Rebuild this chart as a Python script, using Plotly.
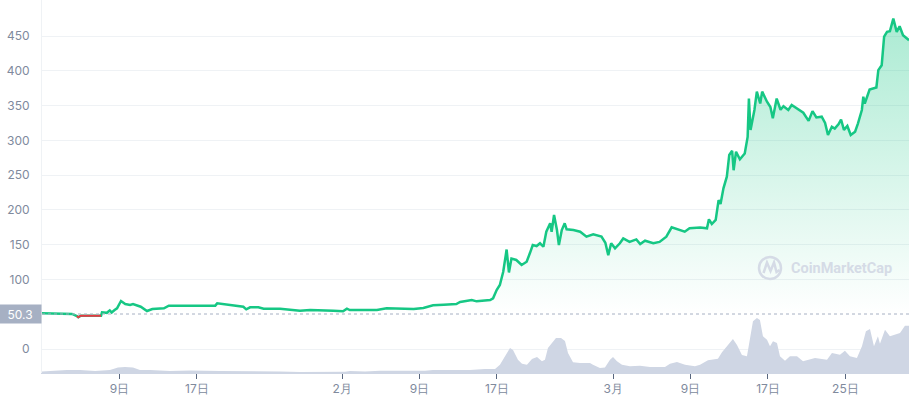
import pandas as pd
import numpy as np
import plotly.graph_objects as go

BASE_DATE = "2021-01-01"
BASELINE = 50.3

# price: time in days since Jan 1, price in USD
price_days = [0, 0.8, 1.72, 2.5, 3.1, 3.6, 3.75, 4.0, 4.8, 5.5, 6.1, 6.2, 6.7, 7.0, 7.2, 7.5, 7.75,
              8.16, 8.4, 8.6, 9.1, 9.4, 10.2, 10.85, 11.4, 12.05, 12.6, 13.1, 13.8, 14.5, 15.5, 16.5,
              17.9, 18.1, 18.7, 19.8, 20.8, 21.1, 21.5, 22.35, 22.9, 24.6, 25.6, 26.65, 27.7, 29.05,
              30.1, 31.1, 31.5, 31.8, 33.2, 34.6, 35.6, 37.0, 38.4, 39.4, 40.4, 41.5, 42.8, 43.2,
              44.4, 44.9, 45.6, 46.3, 46.6, 46.97, 47.3, 47.65, 48.0, 48.24, 48.5, 49.0, 49.55,
              50.07, 50.4, 50.7, 51.1, 51.45, 51.8, 52.1, 52.5, 52.65, 52.9, 53.2, 53.4, 53.7,
              54.0, 54.2, 54.9, 55.6, 56.25, 56.95, 57.8, 58.2, 58.5, 58.8, 59.2, 59.7, 60.05,
              60.7, 61.4, 61.8, 62.3, 63.15, 63.8, 64.5, 65.05, 65.6, 66.4, 66.9, 68.0, 68.7,
              68.9, 69.2, 69.6, 69.9, 70.1, 70.4, 70.75, 71.0, 71.3, 71.45, 71.7, 72.1, 72.6,
              72.9, 73.03, 73.2, 73.6, 73.85, 74.2, 74.4, 74.9, 75.25, 75.5, 75.9, 76.3, 76.6,
              77.1, 77.45, 78.0, 78.65, 79.2, 79.6, 80.0, 80.55, 80.9, 81.2, 81.6, 81.9, 82.3,
              82.55, 82.85, 83.2, 83.55, 84.0, 84.3, 84.7, 84.85, 85.0, 85.5, 86.2, 86.4, 86.75,
              87.0, 87.3, 87.6, 87.95, 88.3, 88.6, 88.95, 89.3, 89.57]
price_values = [51.3, 51.0, 50.6, 50.5, 50.4, 47.4, 45.6, 47.9, 47.6, 48.0, 47.8, 52.7, 52.0, 55.5, 52.4, 56.0, 58.5,
                69.0, 66.0, 64.7, 63.4, 64.7, 60.8, 54.6, 57.5, 58.5, 58.5, 62.3, 61.8, 62.3, 62.3, 62.0,
                62.3, 65.6, 64.7, 62.8, 60.8, 57.0, 59.9, 59.9, 58.0, 58.0, 57.0, 55.1, 56.0, 56.0,
                55.1, 54.2, 58.0, 56.0, 56.0, 56.0, 58.5, 58.0, 57.5, 59.0, 62.8, 63.7, 64.7, 67.6,
                70.4, 68.5, 70.0, 70.4, 72.9, 84.8, 92, 111, 143, 110, 130, 128, 120.8,
                125.5, 137.6, 149.5, 148, 152, 147, 168.6, 180.7, 168.6, 192.6, 171, 149.5, 171,
                180.7, 172, 171, 168.6, 161.5, 164.8, 161.5, 152.8, 135, 152, 144.8, 152, 159,
                154, 157.6, 151, 155.7, 152, 154, 161.5, 175, 172, 168.6, 173.5, 174.5, 173.5,
                186.4, 179.7, 185.5, 214, 208.5, 231, 247.7, 279, 285, 257, 283.6, 272.7, 281,
                305, 360, 315, 343.6, 370, 353, 370, 355.5, 348, 331.6, 360, 344, 349,
                343.6, 350.8, 346, 339.7, 328, 342, 333, 334, 325, 307.6, 319.6, 317, 323.5,
                330, 315, 320.6, 307.6, 312.4, 324.5, 343.6, 362.7, 353, 373, 376, 401, 408,
                449, 456, 457, 475, 456, 464, 451, 446.6, 444]

# volume: time in days since Jan 1, relative volume
volume_days = [0, 2.58, 3.93, 5.48, 7.02, 7.85, 8.57, 9.40, 10.12, 11.16, 13.22, 15.29, 18.39, 21.49,
               24.59, 26.65, 31.30, 31.82, 33.37, 34.92, 36.47, 38.02, 39.57, 40.39, 41.63, 42.67,
               44.21, 45.76, 46.80, 47.31, 47.83, 48.35, 48.66, 49.17, 49.59, 50.10, 50.62, 51.14,
               51.65, 51.96, 52.27, 52.69, 53.10, 53.62, 54.03, 54.34, 54.86, 55.58, 56.61, 56.92,
               57.64, 58.16, 58.68, 58.99, 59.40, 59.92, 60.74, 61.78, 62.81, 64.36, 64.88, 65.60,
               66.43, 67.46, 67.98, 68.80, 69.83, 70.25, 70.76, 71.38, 71.80, 72.31, 72.83, 73.14,
               73.45, 73.86, 74.17, 74.48, 74.90, 75.21, 75.52, 75.93, 76.24, 76.76, 77.27, 78.00,
               78.62, 79.86, 81.10, 81.61, 82.44, 82.95, 83.47, 84.19, 84.71, 85.12, 85.54, 85.95,
               86.36, 86.57, 87.09, 87.60, 88.12, 88.64, 89.15, 89.57]
volume_values = [1.5, 3, 3, 2, 3, 5.5, 6, 5.5, 3, 3, 2, 2.5, 2, 2,
                 1.5, 1, 1.2, 2, 1.5, 2.3, 2.3, 1.8, 2.3, 3, 3, 2.5,
                 3, 4, 4, 8.3, 16.7, 25, 23, 13.3, 9.3, 8.3, 14, 16,
                 11.7, 13.3, 25, 30, 35, 35, 32, 20, 10.7, 10, 10, 8.3,
                 5, 5.5, 13.3, 16, 11.7, 8.3, 6.7, 7.3, 6, 6, 9.3, 11,
                 8.3, 6.7, 8.3, 12.7, 14.3, 20.7, 27, 34, 28, 18, 16.7, 33,
                 51.7, 55, 53, 36.7, 33.3, 26.7, 31.7, 30, 16.7, 12.3, 16.7, 16.7,
                 11.7, 15, 13.3, 20, 18.3, 22.3, 16.7, 15, 26.7, 41.7, 44, 26.7,
                 36.7, 29.3, 43.3, 36.7, 38.3, 40, 47.3, 47.3]

x_tick_days = [8, 16, 31, 39, 47, 59, 67, 75, 83]
x_tick_text = ["9日", "17日", "2月", "9日", "17日", "3月", "9日", "17日", "25日"]
y_tick_vals = [0, 100, 150, 200, 250, 300, 350, 400, 450]

base = pd.Timestamp(BASE_DATE)
to_dates = lambda d: base + pd.to_timedelta(np.array(d, dtype=float), unit="D")
p_dates = to_dates(price_days)
v_dates = to_dates(volume_days)
p = np.array(price_values, dtype=float)

GREEN = "#16c784"
RED = "#ea3943"
GRID = "#eff2f5"
LABEL = "#808a9d"
VOL = "#cfd6e4"

fig = go.Figure()

fig.add_trace(go.Scatter(x=v_dates, y=volume_values, yaxis="y2", mode="lines",
                         line=dict(width=0, color=VOL), fill="tozeroy", fillcolor=VOL,
                         hoverinfo="skip", showlegend=False))

fig.add_trace(go.Scatter(x=p_dates, y=[BASELINE] * len(p), mode="lines",
                         line=dict(width=0), hoverinfo="skip", showlegend=False))
fig.add_trace(go.Scatter(x=p_dates, y=p, mode="lines", line=dict(color=GREEN, width=2.5),
                         fill="tonexty",
                         fillgradient=dict(type="vertical", start=BASELINE, stop=475,
                                           colorscale=[[0, "rgba(22,199,132,0)"],
                                                       [1, "rgba(22,199,132,0.36)"]]),
                         showlegend=False))
red = np.where(p < BASELINE, p, np.nan)
fig.add_trace(go.Scatter(x=p_dates, y=red, mode="lines", line=dict(color=RED, width=2),
                         connectgaps=False, showlegend=False))

# baseline dotted line and label
fig.add_shape(type="line", xref="paper", x0=0, x1=1, yref="y", y0=BASELINE, y1=BASELINE,
              line=dict(color="#a6b0c3", width=1, dash="dot"))
fig.add_annotation(xref="paper", x=0, xanchor="right", yref="y", y=BASELINE, yanchor="middle",
                   text="50.3", showarrow=False, bgcolor="#a6b0c3", width=42, height=18,
                   borderpad=0, font=dict(color="white", size=12, family="Inter"))

# watermark
def px2paper(xp, yp):
    return (xp - 42) / 867, (373 - yp) / 373

cx0, cy0 = px2paper(759, 279)
cx1, cy1 = px2paper(781, 257)
wm = "#d5dbe6"
fig.add_shape(type="circle", xref="paper", yref="paper", x0=cx0, y0=cy0, x1=cx1, y1=cy1,
              line=dict(color=wm, width=2.5))
pts = [(763.5, 273), (767, 262.5), (770.5, 271), (774, 262.5), (776.5, 272), (779.5, 270)]
path = "M " + " L ".join(f"{px2paper(a, b)[0]:.4f},{px2paper(a, b)[1]:.4f}" for a, b in pts)
fig.add_shape(type="path", xref="paper", yref="paper", path=path, line=dict(color=wm, width=2.5))
tx, ty = px2paper(789, 268)
fig.add_annotation(xref="paper", yref="paper", x=tx, y=ty, xanchor="left", yanchor="middle",
                   text="<b>CoinMarketCap</b>", showarrow=False,
                   font=dict(color=wm, size=14.5, family="Roboto"))

y_min = (349 - 373) / 0.69556
y_max = 349 / 0.69556

fig.update_layout(
    width=909, height=400, margin=dict(l=42, r=0, t=0, b=27),
    paper_bgcolor="white", plot_bgcolor="white",
    font=dict(family="Inter", color=LABEL, size=11),
    showlegend=False,
    xaxis=dict(range=[to_dates([0])[0], to_dates([89.57])[0]],
               tickvals=to_dates(x_tick_days), ticktext=x_tick_text,
               showgrid=False, zeroline=False, showline=True, linecolor=VOL, linewidth=1,
               ticks="outside", ticklen=5, tickcolor="#58667e", tickfont=dict(size=12, color=LABEL)),
    yaxis=dict(range=[y_min, y_max], tickvals=y_tick_vals, showgrid=True, gridcolor=GRID,
               gridwidth=1, zeroline=False, showline=True, linecolor=GRID,
               ticks="outside", ticklen=9, tickcolor="rgba(0,0,0,0)",
               tickfont=dict(size=12, color=LABEL)),
    yaxis2=dict(overlaying="y", range=[0, 373], visible=False, fixedrange=True),
)

fig.write_html("out.html", config={"displayModeBar": False},
               post_script="document.body.style.margin='0';")
